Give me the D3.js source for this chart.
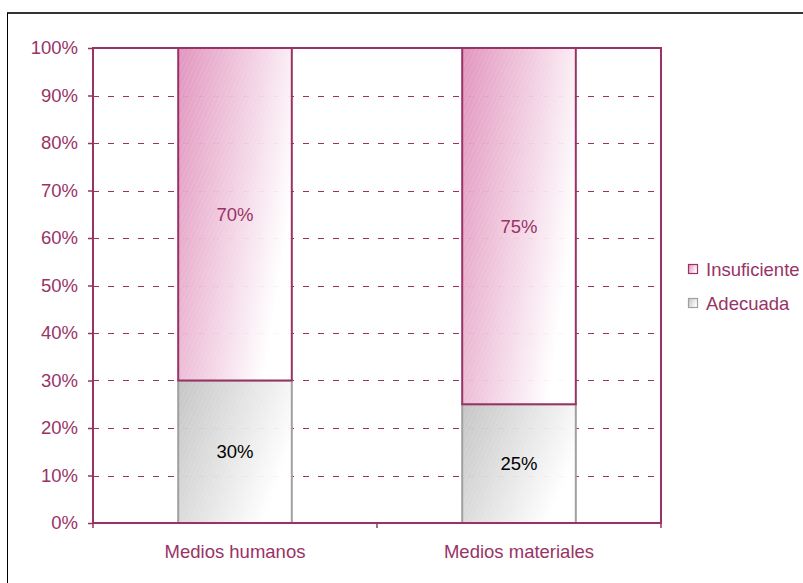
<!DOCTYPE html>
<html><head><meta charset="utf-8">
<script src="https://cdn.jsdelivr.net/npm/d3@7"></script>
<style>
html,body{margin:0;padding:0;background:#fff;}
svg{display:block;font-family:"Liberation Sans",Arial,sans-serif;}
</style></head>
<body>
<svg id="chart" width="803" height="583"></svg>
<script>
const categories = ["Medios humanos", "Medios materiales"];
const adecuada = [30, 25];
const insuficiente = [70, 75];
const seriesNames = ["Insuficiente", "Adecuada"];
const yTicks = [0, 10, 20, 30, 40, 50, 60, 70, 80, 90, 100];

const svg = d3.select("#chart");
const W = 803, H = 583;
const m = {left: 93, right: 661, top: 48, bottom: 523};
const pink = "#993366";
const FS = 18.5;

// outer frame
svg.append("line").attr("x1", 7).attr("x2", W).attr("y1", 13).attr("y2", 13).attr("stroke", "#333").attr("stroke-width", 2);
svg.append("line").attr("x1", 7.5).attr("x2", 7.5).attr("y1", 13).attr("y2", H).attr("stroke", "#000").attr("stroke-width", 1);

const defs = svg.append("defs");
function grad(id, c) {
  const g = defs.append("linearGradient").attr("id", id).attr("x1", "0").attr("y1", "0").attr("x2", "1").attr("y2", "0.45");
  g.append("stop").attr("offset", "0").attr("stop-color", c);
  g.append("stop").attr("offset", "1").attr("stop-color", "#ffffff");
}
grad("gPink", "#e08fbb");
grad("gGray", "#c2c2c2");
function hatch(id, c) {
  const p = defs.append("pattern").attr("id", id).attr("patternUnits", "userSpaceOnUse").attr("width", 4).attr("height", 4).attr("patternTransform", "rotate(25)");
  p.append("line").attr("x1", 0).attr("y1", 0).attr("x2", 0).attr("y2", 4).attr("stroke", c).attr("stroke-width", 1).attr("stroke-opacity", 0.2);
}
hatch("hPink", "#ffffff");
hatch("hGray", "#ffffff");

const x = d3.scaleBand().domain(categories).range([m.left, m.right]).paddingInner(0).paddingOuter(0);
const y = d3.scaleLinear().domain([0, 100]).range([m.bottom, m.top]);
const barW = x.bandwidth() * 0.4;

// gridlines
svg.append("g").selectAll("line").data(yTicks.filter(t => t > 0 && t < 100)).join("line")
  .attr("x1", m.left).attr("x2", m.right)
  .attr("y1", d => Math.round(y(d)) + 0.5).attr("y2", d => Math.round(y(d)) + 0.5)
  .attr("stroke", pink).attr("stroke-width", 1).attr("stroke-dasharray", "6,9");

// bars
const g = svg.append("g");
categories.forEach((c, i) => {
  const bx = x(c) + (x.bandwidth() - barW) / 2;
  const y0 = y(adecuada[i]);
  g.append("rect").attr("x", bx).attr("y", y0).attr("width", barW).attr("height", y(0) - y0)
    .attr("fill", "url(#gGray)").attr("fill-opacity", 0.95);
  g.append("rect").attr("x", bx).attr("y", y0).attr("width", barW).attr("height", y(0) - y0)
    .attr("fill", "url(#hGray)");
  g.append("rect").attr("x", bx).attr("y", y0).attr("width", barW).attr("height", y(0) - y0)
    .attr("fill", "none").attr("stroke", "#a0a0a0").attr("stroke-width", 2);
  const y1 = y(adecuada[i] + insuficiente[i]);
  g.append("rect").attr("x", bx).attr("y", y1).attr("width", barW).attr("height", y0 - y1)
    .attr("fill", "url(#gPink)").attr("fill-opacity", 0.95);
  g.append("rect").attr("x", bx).attr("y", y1).attr("width", barW).attr("height", y0 - y1)
    .attr("fill", "url(#hPink)");
  g.append("rect").attr("x", bx).attr("y", y1).attr("width", barW).attr("height", y0 - y1)
    .attr("fill", "none").attr("stroke", pink).attr("stroke-width", 2);
  g.append("text").attr("x", bx + barW / 2).attr("y", (y(0) + y0) / 2 + 6.5)
    .attr("text-anchor", "middle").attr("font-size", FS).attr("fill", "#000").text(adecuada[i] + "%");
  g.append("text").attr("x", bx + barW / 2).attr("y", (y0 + y1) / 2 + 6.5)
    .attr("text-anchor", "middle").attr("font-size", FS).attr("fill", pink).text(insuficiente[i] + "%");
});

// plot border
svg.append("rect").attr("x", m.left).attr("y", m.top).attr("width", m.right - m.left).attr("height", m.bottom - m.top)
  .attr("fill", "none").attr("stroke", pink).attr("stroke-width", 2);

// y axis
const yAxis = d3.axisLeft(y).tickValues(yTicks).tickFormat(d => d + "%").tickSize(5).tickPadding(10);
const ya = svg.append("g").attr("transform", `translate(${m.left},0)`).call(yAxis);
ya.select(".domain").remove();
ya.selectAll("line").attr("stroke", pink).attr("stroke-width", 1.5);
ya.selectAll("text").attr("fill", pink).attr("font-size", FS).attr("font-family", "Liberation Sans, Arial, sans-serif");

// x axis
const xa = svg.append("g").attr("transform", `translate(0,${m.bottom})`);
const bounds = [m.left, m.left + x.bandwidth(), m.right];
xa.selectAll("line").data(bounds).join("line")
  .attr("x1", d => d).attr("x2", d => d).attr("y1", 0).attr("y2", 5).attr("stroke", pink).attr("stroke-width", 1.5);
xa.selectAll("text").data(categories).join("text")
  .attr("x", d => x(d) + x.bandwidth() / 2).attr("y", 34.5)
  .attr("text-anchor", "middle").attr("font-size", FS).attr("fill", pink).text(d => d);

// legend
const leg = svg.append("g");
const legFill = ["url(#gPink)", "url(#gGray)"];
const legStroke = [pink, "#a0a0a0"];
seriesNames.forEach((s, i) => {
  const ly = 269 + i * 34;
  leg.append("rect").attr("x", 688.5).attr("y", ly - 4.5).attr("width", 9).attr("height", 9)
    .attr("fill", legFill[i]).attr("stroke", legStroke[i]).attr("stroke-width", 1.2);
  leg.append("text").attr("x", 706).attr("y", ly + 6.5).attr("font-size", FS).attr("fill", pink).text(s);
});
</script>
</body></html>
